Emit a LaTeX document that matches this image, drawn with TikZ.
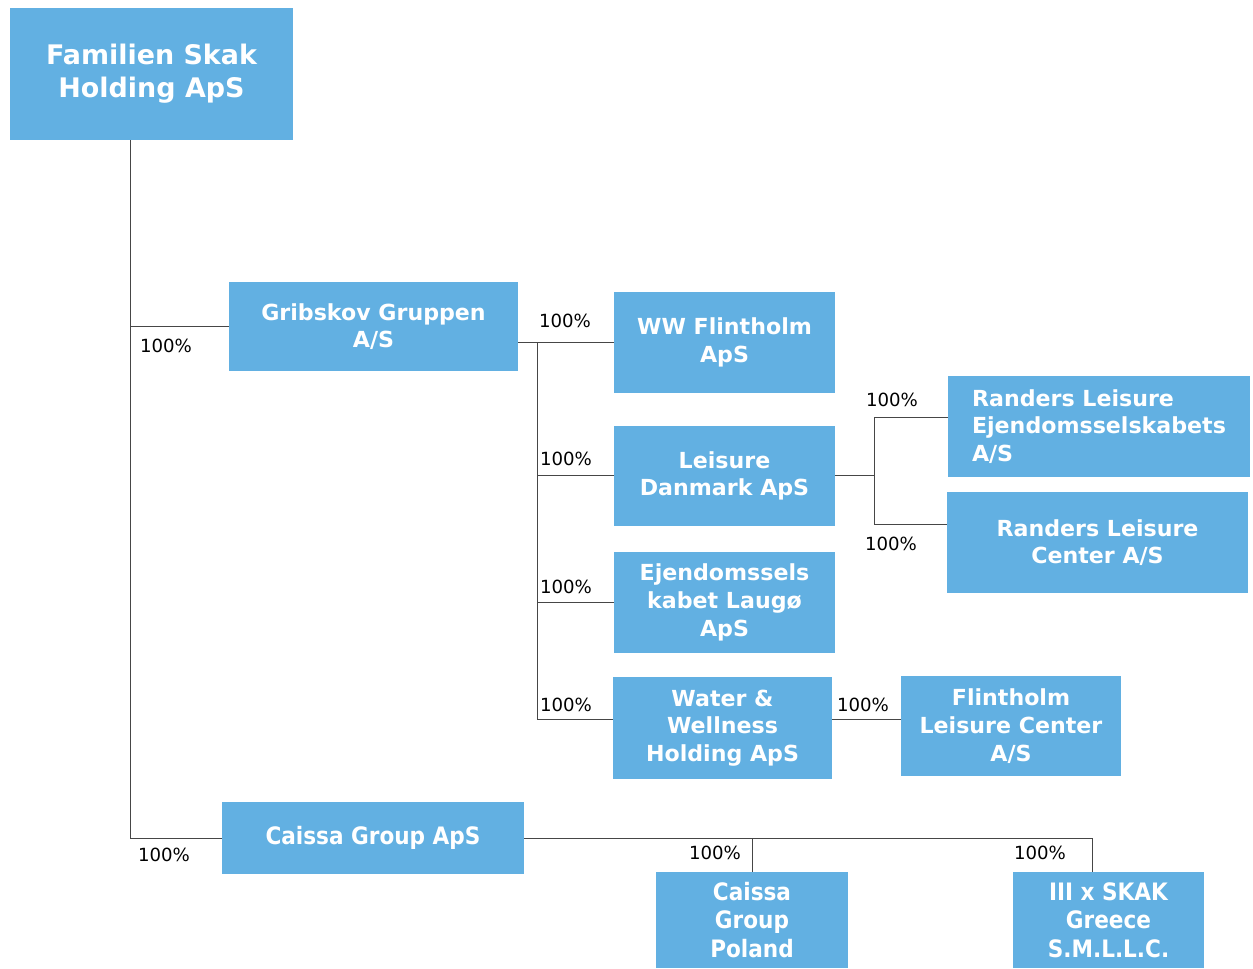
\documentclass[tikz,border=0pt]{standalone}
\usepackage{fontspec}
\setmainfont{DejaVu Sans}
\newfontfamily\condfont{DejaVu Sans Condensed}
\definecolor{boxblue}{RGB}{98,176,226}
\definecolor{linegray}{RGB}{70,70,70}
\begin{document}
\begin{tikzpicture}[x=0.75pt,y=-0.75pt,
  box/.style={fill=boxblue, draw=none, text=white, align=center, inner sep=0pt,
    font=\bfseries\fontsize{16.6}{20.8}\selectfont},
  condbox/.style={box, font=\condfont\bfseries\fontsize{18}{21.3}\selectfont},
  pct/.style={font=\fontsize{13.6}{15}\selectfont, text=black, inner sep=0pt},
  conn/.style={draw=linegray, line width=0.75pt}]
\useasboundingbox (0,0) rectangle (1253,969);
\fill[white] (0,0) rectangle (1253,969);

% boxes
\node[box, minimum width=283*0.75pt, minimum height=132*0.75pt,
  font=\bfseries\fontsize{20.2}{24.75}\selectfont] (fam) at (151.5,74) {Familien Skak\\Holding ApS};
\node[box, minimum width=289*0.75pt, minimum height=89*0.75pt] (grib) at (373.5,326.5) {Gribskov Gruppen\\A/S};
\node[box, minimum width=221*0.75pt, minimum height=101*0.75pt] (ww) at (724.5,342.5) {WW Flintholm\\ApS};
\node[box, minimum width=221*0.75pt, minimum height=100*0.75pt] (ld) at (724.5,476) {Leisure\\Danmark ApS};
\node[box, minimum width=221*0.75pt, minimum height=101*0.75pt] (ejd) at (724.5,602.5) {Ejendomssels\\kabet Laugø\\ApS};
\node[box, minimum width=219*0.75pt, minimum height=102*0.75pt] (wwh) at (722.5,728) {Water \&\\Wellness\\Holding ApS};
\node[box, minimum width=220*0.75pt, minimum height=100*0.75pt] (flc) at (1011,726) {Flintholm\\Leisure Center\\A/S};
\node[box, minimum width=302*0.75pt, minimum height=101*0.75pt, align=left] (rle) at (1099,426.5) {Randers Leisure\\Ejendomsselskabets\\A/S};
\node[box, minimum width=301*0.75pt, minimum height=101*0.75pt] (rlc) at (1097.5,542.5) {Randers Leisure\\Center A/S};
\node[condbox, minimum width=302*0.75pt, minimum height=72*0.75pt] (cga) at (373,838) {Caissa Group ApS};
\node[condbox, minimum width=192*0.75pt, minimum height=96*0.75pt] (cgp) at (752,920) {Caissa\\Group\\Poland};
\node[condbox, minimum width=191*0.75pt, minimum height=96*0.75pt] (grc) at (1108.5,920) {III x SKAK\\Greece\\S.M.L.L.C.};

% branch coordinates
\coordinate (t1) at (130,327);
\coordinate (v1) at (537,342.5);
\coordinate (b4) at (537,719);
\coordinate (r1) at (874,418);
\coordinate (r2) at (874,525);
\coordinate (c1) at (752,838);
\coordinate (c2) at (1092,838);

% connectors
\draw[conn] (fam.south -| t1) |- (grib.west);
\draw[conn] (fam.south -| t1) |- (cga.west);
\draw[conn] (grib.east |- ww.west) -- (ww.west);
\draw[conn] (v1) -- (b4) -- (b4 -| wwh.west);
\draw[conn] (v1 |- ld.west) -- (ld.west);
\draw[conn] (v1 |- ejd.west) -- (ejd.west);
\draw[conn] (ld.east) -- (ld.east -| r1);
\draw[conn] (r1) -- (r2);
\draw[conn] (r1) -- (r1 -| rle.west);
\draw[conn] (r2) -- (r2 -| rlc.west);
\draw[conn] (wwh.east |- b4) -- (flc.west |- b4);
\draw[conn] (cga.east) -- (c2);
\draw[conn] (c1) -- (c1 |- cgp.north);
\draw[conn] (c2) -- (c2 |- grc.north);

% percentage labels
\node[pct] (p1) at (166,346) {100\%};
\node[pct] (p2) at (164,855) {100\%};
\node[pct] (p3) at (565,321) {100\%};
\node[pct] (p4) at (566,459) {100\%};
\node[pct] (p5) at (566,587) {100\%};
\node[pct] (p6) at (566,705) {100\%};
\node[pct] (p7) at (892,400) {100\%};
\node[pct] (p8) at (891,544) {100\%};
\node[pct] (p9) at (863,705) {100\%};
\node[pct] (p10) at (715,853) {100\%};
\node[pct] (p11) at (1040,853) {100\%};
\end{tikzpicture}
\end{document}
